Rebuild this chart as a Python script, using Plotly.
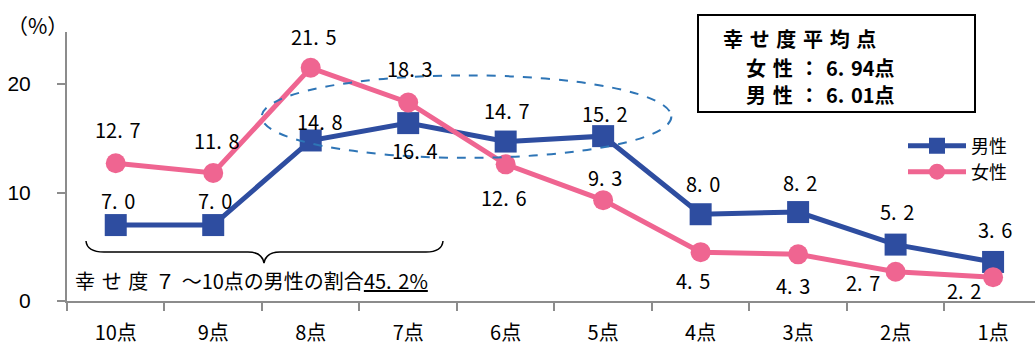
import plotly.graph_objects as go

categories = ["10点", "9点", "8点", "7点", "6点", "5点", "4点", "3点", "2点", "1点"]
male = [7.0, 7.0, 14.8, 16.4, 14.7, 15.2, 8.0, 8.2, 5.2, 3.6]
female = [12.7, 11.8, 21.5, 18.3, 12.6, 9.3, 4.5, 4.3, 2.7, 2.2]
y_ticks = [0, 10, 20]
avg_title = "幸せ度平均点"
avg_female = 6.94
avg_male = 6.01
share_text = "幸せ度７～10点の男性の割合"
share_value = 45.2

# label offsets in pixels (dx, dy up)
male_off = [(0, 25), (0, 25), (7, 19), (5, -27), (-1, 31), (0, 23), (0, 31), (0, 30), (-1, 33), (0, 32)]
female_off = [(0, 34), (2, 33), (1, 31), (0, 34), (-4, -33), (0, 23), (-10, -28), (-7, -31), (-35, -11), (-31, -13)]

BLUE = "#2E4DA0"
PINK = "#EF6591"
W, H = 1035, 347
ML, MR, MT, MB = 67, 0, 32, 46
PW, PH = W - ML - MR, H - MT - MB
SP = "\u2004"
CJK = "Noto Sans CJK JP"


def px(x):
    return (x - ML) / PW


def py(y):
    return (H - MB - y) / PH


def spaced(s):
    return SP.join(s)


def fmt(v, nd=1):
    return f"{v:.{nd}f}".replace(".", "." + SP)


fig = go.Figure()
fig.add_trace(go.Scatter(x=categories, y=male, name="男性", mode="lines+markers",
                         line=dict(color=BLUE, width=5),
                         marker=dict(symbol="square", size=22, color=BLUE), legend="legend"))
fig.add_trace(go.Scatter(x=categories, y=female, name="女性", mode="lines+markers",
                         line=dict(color=PINK, width=5),
                         marker=dict(symbol="circle", size=20, color=PINK), legend="legend2"))

lab_font = dict(family=CJK, size=20, color="#000000")
annotations = []
for vals, offs in ((male, male_off), (female, female_off)):
    for c, v, (dx, dy) in zip(categories, vals, offs):
        annotations.append(dict(x=c, y=v, xref="x", yref="y", text=fmt(v),
                                xanchor="center", yanchor="middle",
                                showarrow=False, xshift=dx + 2, yshift=dy, font=lab_font))

# (%) label
annotations.append(dict(x=px(37), y=py(25), xref="paper", yref="paper", text="（%）", showarrow=False,
                        xanchor="center", yanchor="middle",
                        font=dict(family=CJK, size=21, color="#000")))

# average box text
box_font = dict(family=CJK, size=20, color="#000")
annotations.append(dict(x=px(721), y=py(39), xref="paper", yref="paper", xanchor="left", yanchor="middle",
                        text=f"<b>{spaced(avg_title)}</b>", showarrow=False, font=box_font))
annotations.append(dict(x=px(744), y=py(67), xref="paper", yref="paper", xanchor="left", yanchor="middle",
                        text=f"<b>女{SP}性{SP}：{SP}{fmt(avg_female, 2)}点</b>", showarrow=False, font=box_font))
annotations.append(dict(x=px(744), y=py(94), xref="paper", yref="paper", xanchor="left", yanchor="middle",
                        text=f"<b>男{SP}性{SP}：{SP}{fmt(avg_male, 2)}点</b>", showarrow=False, font=box_font))

# share text
annotations.append(dict(x=px(73), y=py(280), xref="paper", yref="paper", xanchor="left", yanchor="middle",
                        text=f"{spaced(share_text[:5])}{share_text[5:]}<u>{fmt(share_value)}%</u>",
                        showarrow=False, font=dict(family=CJK, size=20, color="#000")))

shapes = []
# ellipse (data coords: category index, value)
shapes.append(dict(type="circle", xref="x", yref="y", x0=1.497, x1=5.70, y0=13.2, y1=20.8,
                   line=dict(color="#2E75B6", width=2, dash="dash")))
# box
shapes.append(dict(type="rect", xref="paper", yref="paper", x0=px(698), x1=px(975), y0=py(112), y1=py(15),
                   line=dict(color="#000", width=2)))
# brace
pts = [("M", 86, 241), ("Q", 87, 252), (None, 104, 252), ("L", 248, 252), ("Q", 262, 252), (None, 264, 263),
       ("Q", 266, 252), (None, 280, 252), ("L", 426, 252), ("Q", 442, 252), (None, 443, 241)]
path = ""
for cmd, x, y in pts:
    path += (cmd if cmd else " ") + f"{px(x):.5f},{py(y):.5f} "
shapes.append(dict(type="path", xref="paper", yref="paper", path=path.strip(),
                   line=dict(color="#000", width=1.5)))

leg_common = dict(xanchor="left", yanchor="middle", bgcolor="rgba(0,0,0,0)", itemwidth=58,
                  font=dict(family=CJK, size=18, color="#000"))
fig.update_layout(
    width=W, height=H, margin=dict(l=ML, r=MR, t=MT, b=MB),
    paper_bgcolor="white", plot_bgcolor="white",
    showlegend=True,
    legend=dict(x=px(903), y=py(146), **leg_common),
    legend2=dict(x=px(903), y=py(172), **leg_common),
    annotations=annotations, shapes=shapes, hovermode=False,
)
fig.update_xaxes(type="category", range=[-0.5, 9.43], showline=True, linecolor="#8C8C8C", linewidth=2,
                 ticks="outside", tickson="boundaries", ticklen=8, tickcolor="#8C8C8C", tickwidth=2,
                 showgrid=False, ticklabelstandoff=13,
                 tickfont=dict(family=CJK, size=20, color="#000"))
fig.update_yaxes(range=[0, 24.8], tickvals=y_ticks, showline=True, linecolor="#8C8C8C", linewidth=2,
                 ticks="outside", ticklen=8, tickcolor="#8C8C8C", tickwidth=2, showgrid=False,
                 zeroline=False, ticklabelstandoff=22,
                 tickfont=dict(family="Liberation Sans", size=21, color="#000"))

fig.write_html("out.html")
